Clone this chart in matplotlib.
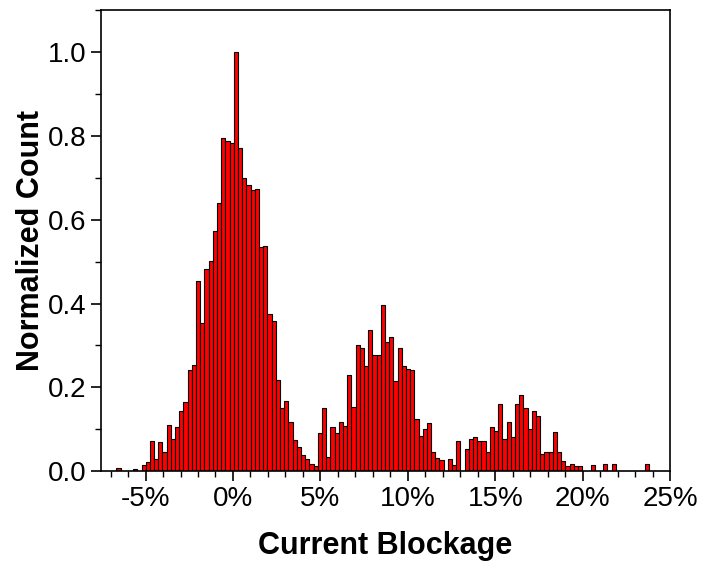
import numpy as np
import matplotlib
matplotlib.use("Agg")
import matplotlib.pyplot as plt
from matplotlib.ticker import MultipleLocator, FuncFormatter

# normalized counts per bin (first bin starts at -6.67 %)
heights = [
    0.007, 0, 0, 0, 0.005, 0, 0.014, 0.023, 0.072, 0.030,
    0.070, 0.047, 0.111, 0.077, 0.106, 0.144, 0.166, 0.242, 0.253, 0.453,
    0.353, 0.483, 0.502, 0.574, 0.639, 0.796, 0.789, 0.784, 1.000, 0.771,
    0.700, 0.683, 0.671, 0.674, 0.536, 0.538, 0.374, 0.358, 0.218, 0.152,
    0.167, 0.117, 0.074, 0.057, 0.039, 0.028, 0.018, 0.012, 0.090, 0.151,
    0.033, 0.105, 0.090, 0.117, 0.108, 0.230, 0.154, 0.300, 0.293, 0.250,
    0.337, 0.277, 0.277, 0.396, 0.309, 0.320, 0.216, 0.293, 0.250, 0.243,
    0.241, 0.125, 0.084, 0.100, 0.116, 0.047, 0.031, 0.026, 0, 0.030,
    0.016, 0.073, 0, 0.052, 0.077, 0.081, 0.073, 0.073, 0.045, 0.105,
    0.095, 0.160, 0.077, 0.118, 0.081, 0.160, 0.181, 0.150, 0.100, 0.144,
    0.132, 0.041, 0.045, 0.045, 0.094, 0.045, 0.025, 0.013, 0.017, 0.013,
    0.013, 0, 0, 0.014, 0, 0, 0.018, 0, 0.017, 0,
    0, 0, 0, 0, 0, 0, 0.018,
]
bin_start = -6.67   # %
bin_width = 0.24    # %

xticks = [-5, 0, 5, 10, 15, 20, 25]
yticks = [0.0, 0.2, 0.4, 0.6, 0.8, 1.0]

plt.rcParams['font.family'] = ['Liberation Sans', 'DejaVu Sans']

fig = plt.figure(figsize=(7.01, 5.65), dpi=100)
ax = fig.add_axes([0.144, 0.166, 0.812, 0.816])

h = np.array(heights)
lefts = bin_start + bin_width * np.arange(len(h))
keep = h > 0  # empty bins are not drawn
ax.bar(lefts[keep], h[keep], width=bin_width, align='edge',
       color='#ff0000', edgecolor='black', linewidth=0.8)

ax.set_xlim(-7.55, 24.95)
ax.set_ylim(0, 1.1)
ax.set_xticks(xticks)
ax.xaxis.set_major_formatter(FuncFormatter(lambda v, p: f"{v:.0f}%"))
ax.xaxis.set_minor_locator(MultipleLocator(1))
ax.set_yticks(yticks)
ax.yaxis.set_major_formatter(FuncFormatter(lambda v, p: f"{v:.1f}"))
ax.yaxis.set_minor_locator(MultipleLocator(0.1))

ax.tick_params(axis='both', which='major', direction='out', length=7, width=1.2,
               labelsize=20, top=False, right=False)
ax.tick_params(axis='both', which='minor', direction='out', length=4, width=1.0,
               top=False, right=False)
for s in ax.spines.values():
    s.set_linewidth(1.2)

ax.set_xlabel("Current Blockage", fontsize=22, fontweight='bold', labelpad=14)
ax.set_ylabel("Normalized Count", fontsize=22, fontweight='bold', labelpad=1)

fig.savefig("out.png", dpi=100)
